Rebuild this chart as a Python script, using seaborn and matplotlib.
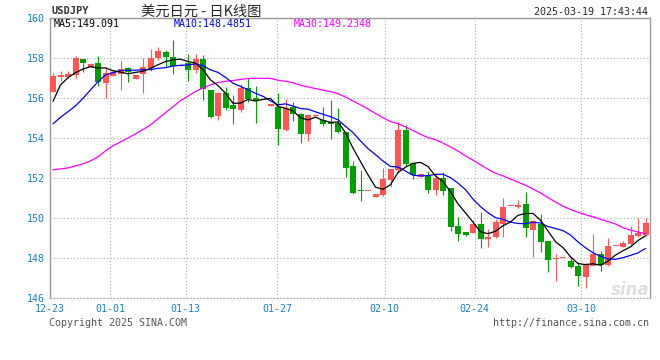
import numpy as np
import pandas as pd
import matplotlib
matplotlib.use('Agg')
import matplotlib.pyplot as plt
import seaborn as sns

# daily USDJPY candles, 12-23 .. 03-19
open_ = [156.33, 157.08, 157.08, 157.17, 157.98, 157.58, 157.77, 156.78, 157.13, 157.23,
         157.52, 156.97, 157.20, 157.50, 158.03, 158.32, 158.07, 157.63, 157.78, 157.43,
         157.97, 156.42, 155.12, 156.27, 155.67, 155.42, 156.50, 156.03, 155.92, 155.63,
         155.57, 154.40, 155.57, 155.23, 154.22, 155.13, 154.92, 154.82, 154.75, 154.32,
         152.62, 151.42, 151.35, 151.08, 151.17, 151.92, 152.42, 154.42, 152.75, 152.05,
         152.17, 151.42, 152.03, 151.50, 149.63, 149.30, 149.27, 149.72, 148.97, 149.05,
         149.72, 150.60, 150.55, 150.72, 149.42, 149.72, 148.85, 147.98, 148.00, 147.88,
         147.63, 147.08, 147.63, 148.22, 147.67, 148.60, 148.58, 148.72, 149.10, 149.17]
high = [157.28, 157.38, 157.38, 158.13, 157.98, 157.78, 158.12, 157.55, 157.42, 157.87,
        157.57, 157.17, 158.03, 158.47, 158.58, 158.43, 158.92, 157.68, 158.23, 158.22,
        158.15, 156.42, 156.33, 156.58, 156.17, 156.70, 157.00, 156.63, 155.92, 155.72,
        156.28, 155.95, 155.82, 155.28, 155.23, 155.17, 155.58, 155.92, 155.53, 154.32,
        152.88, 152.42, 151.38, 151.22, 152.53, 152.45, 154.83, 154.67, 152.78, 152.22,
        152.38, 152.22, 152.33, 151.50, 150.05, 149.33, 149.92, 150.33, 149.47, 149.97,
        151.02, 150.63, 150.93, 151.30, 149.93, 150.22, 148.85, 148.20, 148.02, 148.00,
        147.80, 147.77, 149.22, 148.38, 149.00, 148.63, 148.88, 149.60, 150.00, 150.00]
low = [156.30, 156.88, 157.00, 157.03, 157.33, 157.58, 156.62, 156.00, 157.10, 156.42,
       156.80, 156.97, 156.25, 157.38, 157.92, 157.58, 157.23, 157.63, 156.88, 157.28,
       155.92, 155.00, 154.92, 155.42, 154.70, 155.33, 155.83, 154.78, 155.92, 155.63,
       153.67, 154.35, 154.88, 153.75, 153.88, 155.13, 154.63, 153.97, 154.25, 152.08,
       151.22, 150.88, 151.35, 151.08, 151.10, 151.55, 152.33, 152.62, 151.95, 152.05,
       151.28, 151.17, 151.17, 149.38, 148.88, 149.10, 149.27, 148.52, 148.58, 149.00,
       149.08, 150.60, 150.52, 149.05, 148.08, 148.33, 147.30, 146.88, 148.00, 147.50,
       146.60, 146.52, 147.60, 147.38, 147.60, 148.60, 148.55, 148.60, 149.05, 149.10]
close = [157.13, 157.18, 157.23, 158.00, 157.78, 157.73, 156.83, 157.25, 157.30, 157.45,
         157.30, 157.17, 157.55, 158.00, 158.38, 158.08, 157.63, 157.68, 157.43, 157.97,
         156.47, 155.05, 156.27, 155.50, 155.47, 156.50, 155.97, 155.87, 155.92, 155.72,
         154.47, 155.53, 155.20, 154.22, 155.17, 155.17, 154.73, 154.70, 154.30, 152.53,
         151.28, 151.38, 151.38, 151.22, 151.97, 152.45, 154.42, 152.72, 152.17, 152.22,
         151.42, 152.03, 151.38, 149.55, 149.22, 149.17, 149.72, 148.97, 149.08, 149.83,
         150.55, 150.63, 150.67, 149.50, 149.88, 148.83, 147.93, 148.02, 148.02, 147.58,
         147.13, 147.68, 148.22, 147.67, 148.60, 148.63, 148.77, 149.18, 149.27, 149.77]

# moving averages before enough candles are on screen
ma5_head = [155.85, 156.67, 157.03, 157.28]
ma10_head = [154.72, 155.05, 155.33, 155.62, 156.00, 156.42, 156.83, 157.17, 157.28]
ma30_head = [152.42, 152.47, 152.52, 152.62, 152.72, 152.87, 153.07, 153.37, 153.63, 153.82,
             154.02, 154.22, 154.44, 154.67, 154.98, 155.28, 155.58, 155.88, 156.11, 156.34,
             156.52, 156.67, 156.79, 156.85, 156.89, 156.94, 156.99, 157.00, 157.00]

date_labels = ['12-23', '01-01', '01-13', '01-27', '02-10', '02-24', '03-10']
date_pos = [-0.4, 7.6, 17.7, 29.9, 44.2, 56.2, 70.4]
price_ticks = [146, 148, 150, 152, 154, 156, 158, 160]

df = pd.DataFrame({'open': open_, 'high': high, 'low': low, 'close': close})
df['idx'] = np.arange(len(df))
df['ma5'] = df['close'].rolling(5).mean()
df['ma10'] = df['close'].rolling(10).mean()
df['ma30'] = df['close'].rolling(30).mean()
df.loc[:3, 'ma5'] = ma5_head
df.loc[:8, 'ma10'] = ma10_head
df.loc[:28, 'ma30'] = ma30_head

sns.set_style('white')
plt.rcParams['font.family'] = ['DejaVu Sans Mono', 'Noto Sans CJK SC']

RED = '#ff5555'
GREEN = '#00a000'
BLUE_TXT = '#1a7fcc'

fig = plt.figure(figsize=(6.6, 3.6), dpi=100)
ax = fig.add_axes([50 / 660, 1 - 298.3 / 360, 600 / 660, 280 / 360])

up = df['close'] >= df['open']
cols = np.where(up, RED, GREEN)
ax.vlines(df['idx'], df['low'], df['high'], colors=cols, linewidth=0.8, zorder=2)
body = np.maximum((df['close'] - df['open']).abs(), 0.05)
ax.bar(df['idx'], body, bottom=np.minimum(df['open'], df['close']),
       width=0.8, color=cols, linewidth=0, zorder=3)

sns.lineplot(data=df, x='idx', y='ma30', color='#ff00ff', lw=0.9, ax=ax, zorder=4)
sns.lineplot(data=df, x='idx', y='ma10', color='#0000ff', lw=0.9, ax=ax, zorder=5)
sns.lineplot(data=df, x='idx', y='ma5', color='black', lw=0.9, ax=ax, zorder=6)

ax.set_xlim(-0.4, 79.6)
ax.set_ylim(146, 160)
ax.set_xticks(date_pos)
ax.set_xticklabels(date_labels)
ax.set_yticks(price_ticks)
ax.set_xlabel('')
ax.set_ylabel('')
ax.tick_params(length=0, labelsize=7.2, labelcolor=BLUE_TXT, pad=4)
ax.grid(True, color='#aaaaaa', linestyle=(0, (1, 2)), linewidth=0.8)
for s in ['left', 'top', 'right']:
    ax.spines[s].set_color('#999999')
    ax.spines[s].set_linewidth(1)
ax.spines['bottom'].set_color('#aaaaaa')
ax.spines['bottom'].set_linestyle((0, (1, 2)))
ax.spines['bottom'].set_linewidth(0.8)

# header
fig.text(51 / 660, 1 - 11 / 360, 'USDJPY', fontsize=7.5, weight='bold', va='center', color='#333333')
fig.text(201 / 660, 1 - 12 / 360, '美元日元 - 日K线图', family=['Noto Sans CJK SC'],
         fontsize=10.3, ha='center', va='center')
fig.text(648 / 660, 1 - 12 / 360, '2025-03-19 17:43:44', fontsize=7.2, ha='right', va='center')

fig.text(54 / 660, 1 - 24 / 360, 'MA5:149.091', fontsize=7.2, va='center', color='black')
fig.text(174 / 660, 1 - 24 / 360, 'MA10:148.4851', fontsize=7.2, va='center', color='#0000ff')
fig.text(294 / 660, 1 - 24 / 360, 'MA30:149.2348', fontsize=7.2, va='center', color='#ff00ff')

# footer
fig.text(49 / 660, 1 - 323 / 360, 'Copyright 2025 SINA.COM', fontsize=7.2, va='center', color='#555555')
fig.text(649 / 660, 1 - 323 / 360, 'http://finance.sina.com.cn', fontsize=7.2, ha='right',
         va='center', color='#555555')
fig.text(630 / 660, 1 - 290 / 360, 'sina', family=['DejaVu Sans'], fontsize=12, style='italic',
         weight='bold', ha='center', va='center', color='#dddddd', zorder=1)

fig.savefig('out.png', dpi=100)
